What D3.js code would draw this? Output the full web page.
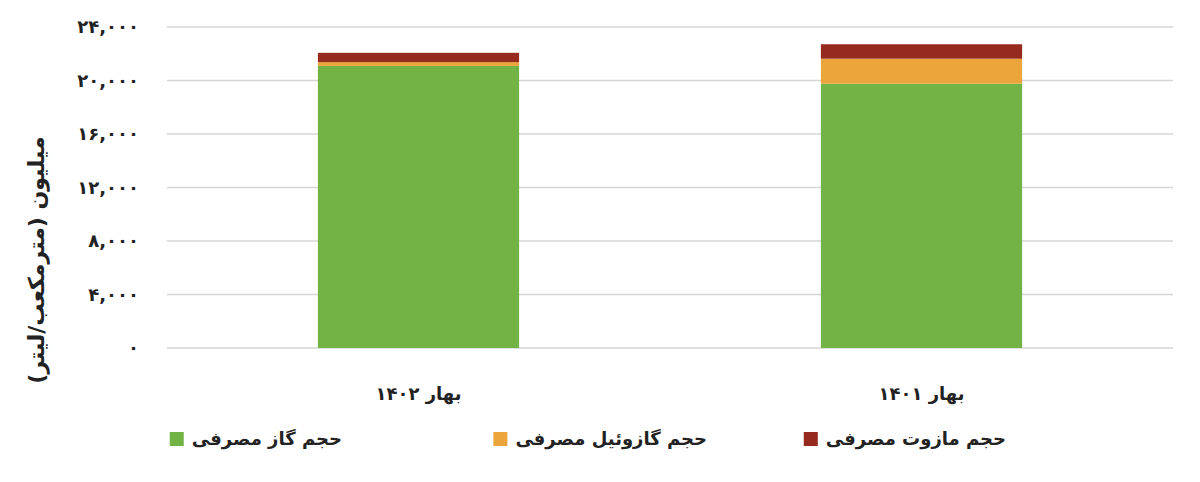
<!DOCTYPE html>
<html>
<head>
<meta charset="utf-8">
<script src="https://cdn.jsdelivr.net/npm/d3@7"></script>
<style>
  body { margin: 0; background: #fff; }
  svg { display: block; font-family: "DejaVu Sans", sans-serif; }
</style>
</head>
<body>
<div id="chart"></div>
<script>
"use strict"

// data
var categories = ['بهار ۱۴۰۲', 'بهار ۱۴۰۱'];
var seriesNames = ['حجم گاز مصرفی', 'حجم گازوئیل مصرفی', 'حجم مازوت مصرفی'];
var gasValues = [21090, 19760];
var gasoilValues = [280, 1870];
var mazutValues = [700, 1080];
var yTicks = [0, 4000, 8000, 12000, 16000, 20000, 24000];
var yTitle = 'میلیون (مترمکعب/لیتر)';
var colors = ['#72b346', '#eca53a', '#972a1f'];

// build rows for the stack
var rows = categories.map(function(c, i) {
    return {cat: c, gas: gasValues[i], gasoil: gasoilValues[i], mazut: mazutValues[i]};
});
var keys = ['gas', 'gasoil', 'mazut'];

var W = 1200, H = 482;
var margin = {top: 27, right: 27, bottom: 134, left: 167};
var width = W - margin.left - margin.right;
var height = H - margin.top - margin.bottom;

var svg = d3.select('#chart').append('svg')
    .attr('width', W)
    .attr('height', H);
var g = svg.append('g')
    .attr('transform', 'translate(' + margin.left + ',' + margin.top + ')');

var x = d3.scaleBand()
    .domain(categories)
    .range([0, width])
    .paddingInner(0.6)
    .paddingOuter(0.3);
var y = d3.scaleLinear()
    .domain([0, 24000])
    .range([height, 0]);

// persian digits for tick labels
function toFa(s) {
    return String(s).replace(/[0-9]/g, function(d) { return '۰۱۲۳۴۵۶۷۸۹'[+d]; });
}
var fmt = d3.format(',');

// gridlines
g.append('g')
    .selectAll('line')
    .data(yTicks)
    .enter().append('line')
    .attr('x1', 0)
    .attr('x2', width)
    .attr('y1', function(d) { return y(d); })
    .attr('y2', function(d) { return y(d); })
    .attr('stroke', '#d6d6d6')
    .attr('stroke-width', 1.5);

// y axis labels
var yAxis = g.append('g')
    .attr('transform', 'translate(-25,0)')
    .call(d3.axisLeft(y).tickValues(yTicks).tickSize(0).tickFormat(function(d) { return toFa(fmt(d)); }));
yAxis.select('.domain').remove();
yAxis.selectAll('text')
    .attr('font-family', '"DejaVu Sans", sans-serif')
    .attr('font-size', 18)
    .attr('font-weight', 'bold')
    .attr('fill', '#222');

// stacked bars
var stacked = d3.stack().keys(keys)(rows);
g.selectAll('.layer')
    .data(stacked)
    .enter().append('g')
    .attr('class', 'layer')
    .attr('fill', function(d, i) { return colors[i]; })
    .selectAll('rect')
    .data(function(d) { return d; })
    .enter().append('rect')
    .attr('x', function(d) { return x(d.data.cat); })
    .attr('y', function(d) { return y(d[1]); })
    .attr('width', x.bandwidth())
    .attr('height', function(d) { return y(d[0]) - y(d[1]); });

// category labels
g.selectAll('.cat')
    .data(categories)
    .enter().append('text')
    .attr('class', 'cat')
    .attr('x', function(d) { return x(d) + x.bandwidth() / 2; })
    .attr('y', height + 52)
    .attr('text-anchor', 'middle')
    .attr('font-size', 18)
    .attr('font-weight', 'bold')
    .attr('fill', '#222')
    .text(function(d) { return d; });

// y title
svg.append('text')
    .attr('transform', 'translate(44,260) rotate(-90)')
    .attr('text-anchor', 'middle')
    .attr('font-size', 22)
    .attr('font-weight', 'bold')
    .attr('fill', '#222')
    .text(yTitle);

// legend: text ends at fixed x, swatch just left of the text
var legendRight = [342, 707, 1006];
var legendY = 439;
seriesNames.forEach(function(name, i) {
    var t = svg.append('text')
        .attr('x', legendRight[i])
        .attr('y', legendY)
        .attr('dy', '0.35em')
        .attr('text-anchor', 'end')
        .attr('font-size', 18)
        .attr('font-weight', 'bold')
        .attr('fill', '#222')
        .text(name);
    var tw = t.node().getComputedTextLength();
    svg.append('rect')
        .attr('x', legendRight[i] - tw - 22)
        .attr('y', legendY - 7)
        .attr('width', 14)
        .attr('height', 14)
        .attr('fill', colors[i]);
});
</script>
</body>
</html>
